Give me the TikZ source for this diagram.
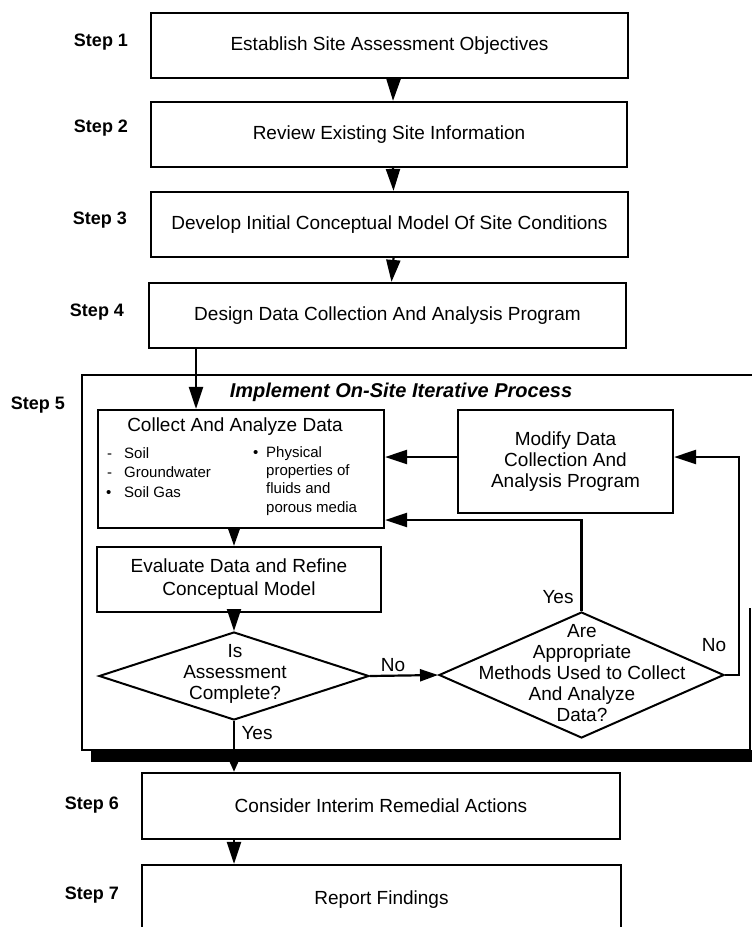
\documentclass[tikz,border=0pt]{standalone}
\usepackage{fontspec}
\setmainfont{Liberation Sans}
\usetikzlibrary{arrows.meta,shapes.geometric}

% font sizes used in the flow chart
\newcommand{\boxfont}{\fontsize{19pt}{21pt}\selectfont}
\newcommand{\evalfont}{\fontsize{19pt}{23pt}\selectfont}
\newcommand{\smallfont}{\fontsize{15pt}{18pt}\selectfont}
\newcommand{\stepfont}{\fontsize{18pt}{22pt}\selectfont\bfseries}
\newcommand{\titlefont}{\fontsize{20pt}{24pt}\selectfont\bfseries\itshape}

\begin{document}
\begin{tikzpicture}[x=1pt,y=-1pt,
  box/.style={draw, line width=2.2pt, rectangle, inner sep=0pt, font=\boxfont, align=center},
  dia/.style={draw, line width=2pt, diamond, inner sep=0pt},
  conn/.style={line width=2.2pt},
  bigtip/.style={-{Triangle[length=22pt,width=14pt]}},
  midtip/.style={-{Triangle[length=18pt,width=12pt]}},
  smalltip/.style={-{Triangle[length=10pt,width=8pt]}},
  steplabel/.style={font=\stepfont, inner sep=0pt},
  txt/.style={font=\boxfont, align=center, inner sep=0pt},
  small/.style={font=\smallfont, inner sep=0pt, anchor=base west},
  answer/.style={font=\boxfont, inner sep=0pt}
]
% page
\fill[white] (0,0) rectangle (752,927);
\useasboundingbox (0,0) rectangle (752,927);

% main steps
\node[box, minimum width=477pt, minimum height=65pt] (s1) at (389.5,45.5) {Establish Site Assessment Objectives};
\node[box, minimum width=476pt, minimum height=65pt] (s2) at (389,134.5) {Review Existing Site Information};
\node[box, minimum width=477pt, minimum height=65pt] (s3) at (389.5,224.5) {Develop Initial Conceptual Model Of Site Conditions};
\node[box, minimum width=477pt, minimum height=65pt] (s4) at (387.5,315.5) {Design Data Collection And Analysis Program};
\node[box, minimum width=478pt, minimum height=66pt] (s6) at (381,806) {Consider Interim Remedial Actions};
\node[box, minimum width=479pt, minimum height=70pt] (s7) at (381.5,900) {Report Findings};

% step labels
\node[steplabel] (l1) at (101,42) {Step 1};
\node[steplabel] (l2) at (101,128) {Step 2};
\node[steplabel] (l3) at (100,220) {Step 3};
\node[steplabel] (l4) at (97,312) {Step 4};
\node[steplabel] (l5) at (38,405) {Step 5};
\node[steplabel] (l6) at (92,805) {Step 6};
\node[steplabel] (l7) at (92,895) {Step 7};

% frame of the iterative process
\draw[line width=2pt] (750,608) -- (750,750) -- (82,750) -- (82,375) -- (752,375);
\fill (91,750) rectangle (752,762);
\node[font=\titlefont, inner sep=0pt] (title) at (401,392) {Implement On-Site Iterative Process};

% collect box with its lists
\node[box, minimum width=286pt, minimum height=118pt] (collect) at (241,469) {};
\node[txt] (ctitle) at (235,427) {Collect And Analyze Data};
\node[small] (b1) at (107,458.4) {-};
\node[small] (t1) at (124,458.4) {Soil};
\node[small] (b2) at (107,477.4) {-};
\node[small] (t2) at (124,477.4) {Groundwater};
\node[small] (b3) at (106,497.4) {•};
\node[small] (t3) at (124,497.4) {Soil Gas};
\node[small] (b4) at (253,457.4) {•};
\node[small] (t4) at (266,457.4) {Physical};
\node[small] (t5) at (266,475.4) {properties of};
\node[small] (t6) at (266,493.4) {fluids and};
\node[small] (t7) at (266,512.4) {porous media};

\node[box, minimum width=215pt, minimum height=103pt] (modify) at (565.5,461.5) {Modify Data\\Collection And\\Analysis Program};
\node[box, font=\evalfont, minimum width=284pt, minimum height=65pt] (evaluate) at (239,579.5) {Evaluate Data and Refine\\Conceptual Model};

% decisions
\node[dia, minimum width=270pt, minimum height=88pt] (d1) at (234,676) {};
\node[txt] (d1t) at (235,674) {Is\\Assessment\\Complete?};
\node[dia, minimum width=285pt, minimum height=126pt] (d2) at (581.5,675) {};
\node[txt] (d2t) at (582,673.5) {Are\\Appropriate\\Methods Used to Collect\\And Analyze\\Data?};

% helper coordinates for connector routes
\coordinate (k4) at (196,0);
\coordinate (kv) at (234,0);
\coordinate (ky) at (0,520);
\coordinate (rx) at (739,457);

% connectors
\draw[conn, bigtip] ([xshift=4pt]s1.south) -- ([xshift=4pt]s2.north);
\draw[conn, bigtip] ([xshift=4pt]s2.south) -- ([xshift=4pt]s3.north);
\draw[conn, bigtip] ([xshift=4pt]s3.south) -- ([xshift=4pt]s4.north);
\draw[conn, bigtip] (s4.south -| k4) -- (collect.north -| k4);
\draw[conn, midtip] (collect.south -| kv) -- (evaluate.north -| kv);
\draw[conn, bigtip] (evaluate.south -| kv) -- (d1.north);
\draw[conn, midtip] (d1.east) -- (d2.west);
\draw[conn, bigtip] (d2.north) |- (ky -| collect.east);
\draw[conn, bigtip] (d2.east) -| (rx) -- (rx -| modify.east);
\draw[conn, bigtip] (modify.west |- rx) -- (collect.east |- rx);
\draw[conn, smalltip] (d1.south) -- (s6.north -| d1.south);
\draw[conn, bigtip] (s6.south -| d1.south) -- (s7.north -| d1.south);

% answers
\node[answer] (no1) at (393,665) {No};
\node[answer] (yes1) at (257,733) {Yes};
\node[answer] (yes2) at (558,597) {Yes};
\node[answer] (no2) at (714,645) {No};
\end{tikzpicture}
\end{document}
